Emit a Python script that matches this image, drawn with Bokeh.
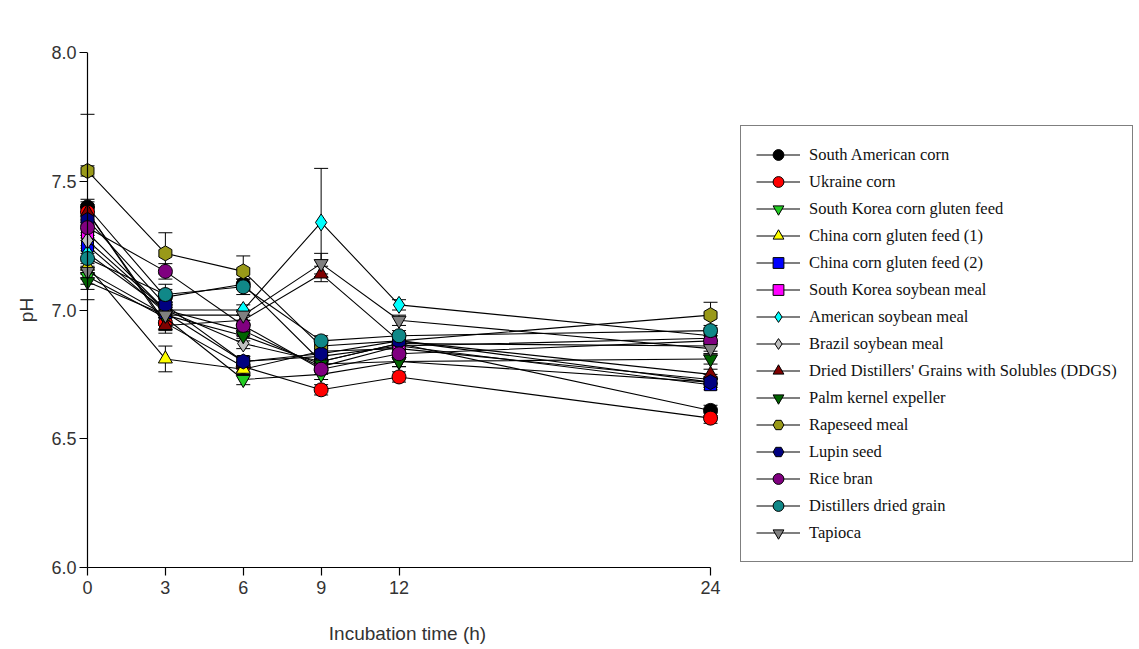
from bokeh.plotting import figure
from bokeh.models import (Range1d, FixedTicker, PrintfTickFormatter, Whisker, TeeHead,
                          ColumnDataSource, Legend, LegendItem, Span)
from bokeh.embed import file_html
from bokeh.resources import INLINE

hours = [0, 3, 6, 9, 12, 24]
x_ticks = [0, 3, 6, 9, 12, 24]
y_ticks = [6.0, 6.5, 7.0, 7.5, 8.0]

names = ["South American corn", "Ukraine corn", "South Korea corn gluten feed",
         "China corn gluten feed (1)", "China corn gluten feed (2)", "South Korea soybean meal",
         "American soybean meal", "Brazil soybean meal",
         "Dried Distillers' Grains with Solubles (DDGS)", "Palm kernel expeller",
         "Rapeseed meal", "Lupin seed", "Rice bran", "Distillers dried grain", "Tapioca"]

south_american_corn = [7.40, 7.05, 7.10, 6.80, 6.87, 6.61]
ukraine_corn        = [7.38, 6.95, 6.78, 6.69, 6.74, 6.58]
sk_corn_gluten      = [7.13, 6.97, 6.73, 6.75, 6.80, 6.72]
china_cgf_1         = [7.17, 6.81, 6.77, 6.84, 6.85, 6.73]
china_cgf_2         = [7.25, 6.99, 6.80, 6.82, 6.86, 6.71]
sk_soybean          = [7.30, 7.00, 6.92, 6.78, 6.86, 6.89]
american_soybean    = [7.22, 7.00, 7.00, 7.34, 7.02, 6.90]
brazil_soybean      = [7.27, 7.00, 6.87, 6.80, 6.87, 6.86]
ddgs                = [7.38, 6.94, 6.96, 7.14, 6.88, 6.75]
palm_kernel         = [7.11, 6.98, 6.90, 6.79, 6.80, 6.81]
rapeseed            = [7.54, 7.22, 7.15, 6.86, 6.88, 6.98]
lupin               = [7.35, 7.02, 6.80, 6.83, 6.88, 6.72]
rice_bran           = [7.32, 7.15, 6.94, 6.77, 6.83, 6.88]
ddg                 = [7.20, 7.06, 7.09, 6.88, 6.90, 6.92]
tapioca             = [7.15, 6.98, 6.98, 7.18, 6.96, 6.85]

err_south_american_corn = [0.36, 0.03, 0.02, 0.02, 0.02, 0.02]
err_ukraine_corn        = [0.04, 0.03, 0.02, 0.02, 0.02, 0.02]
err_sk_corn_gluten      = [0.03, 0.03, 0.02, 0.02, 0.02, 0.02]
err_china_cgf_1         = [0.03, 0.05, 0.02, 0.02, 0.02, 0.02]
err_china_cgf_2         = [0.03, 0.03, 0.02, 0.02, 0.02, 0.02]
err_sk_soybean          = [0.03, 0.03, 0.02, 0.02, 0.02, 0.02]
err_american_soybean    = [0.03, 0.03, 0.02, 0.21, 0.02, 0.02]
err_brazil_soybean      = [0.03, 0.03, 0.02, 0.02, 0.02, 0.02]
err_ddgs                = [0.05, 0.03, 0.02, 0.03, 0.02, 0.02]
err_palm_kernel         = [0.03, 0.03, 0.02, 0.02, 0.02, 0.02]
err_rapeseed            = [0.02, 0.08, 0.06, 0.02, 0.02, 0.05]
err_lupin               = [0.06, 0.03, 0.02, 0.02, 0.02, 0.02]
err_rice_bran           = [0.03, 0.03, 0.02, 0.02, 0.02, 0.02]
err_ddg                 = [0.03, 0.04, 0.03, 0.02, 0.02, 0.02]
err_tapioca             = [0.03, 0.03, 0.02, 0.04, 0.02, 0.02]

series = [south_american_corn, ukraine_corn, sk_corn_gluten, china_cgf_1, china_cgf_2,
          sk_soybean, american_soybean, brazil_soybean, ddgs, palm_kernel, rapeseed,
          lupin, rice_bran, ddg, tapioca]
errors = [err_south_american_corn, err_ukraine_corn, err_sk_corn_gluten, err_china_cgf_1,
          err_china_cgf_2, err_sk_soybean, err_american_soybean, err_brazil_soybean,
          err_ddgs, err_palm_kernel, err_rapeseed, err_lupin, err_rice_bran, err_ddg,
          err_tapioca]

colors = ["#000000", "#ff0000", "#22cc22", "#ffff00", "#0000ff", "#ff00ff", "#00ffff",
          "#c0c0c0", "#800000", "#006400", "#999919", "#000080", "#800080", "#108888",
          "#808080"]
markers = ["circle", "circle", "inverted_triangle", "triangle", "square", "square",
           "diamond", "diamond", "triangle", "inverted_triangle", "hex", "hex", "circle",
           "circle", "inverted_triangle"]
sizes = [14, 14, 14, 14, 12, 12, 17, 17, 14, 14, 15, 15, 14, 14, 14]

PX_PER_H = 25.96
FRAME_W = 656
XS = -8 / PX_PER_H
XE = XS + FRAME_W / PX_PER_H

p = figure(frame_width=FRAME_W, frame_height=515, x_range=Range1d(XS, XE),
           y_range=Range1d(6.0, 8.0), output_backend="svg", toolbar_location=None,
           min_border_left=79, min_border_right=0, min_border_top=52, min_border_bottom=0)
p.grid.visible = False
p.outline_line_color = None
p.background_fill_color = "white"

p.xaxis.bounds = (0, 24)
p.xaxis.ticker = FixedTicker(ticks=x_ticks)
p.yaxis.ticker = FixedTicker(ticks=y_ticks)
p.yaxis.formatter = PrintfTickFormatter(format="%.1f")
for ax in (p.xaxis, p.yaxis):
    ax.minor_tick_line_color = None
    ax.axis_line_color = "black"
    ax.axis_line_width = 1.2
    ax.major_tick_line_color = "black"
    ax.major_tick_line_width = 1.2
    ax.major_label_text_font = "Liberation Sans"
    ax.major_label_text_font_size = "18px"
    ax.major_label_text_color = "#333333"
    ax.axis_label_text_font = "Liberation Sans"
    ax.axis_label_text_font_size = "19px"
    ax.axis_label_text_font_style = "normal"
    ax.axis_label_text_color = "#333333"
p.xaxis.major_tick_out = 8
p.xaxis.major_tick_in = 0
p.yaxis.axis_line_color = None
p.yaxis.major_tick_out = 0
p.yaxis.major_tick_in = 8
p.xaxis.axis_label = "Incubation time (h)"
p.yaxis.axis_label = "pH"
p.xaxis.major_label_standoff = 5
p.xaxis.axis_label_standoff = 26
p.yaxis.major_label_standoff = 3
p.yaxis.axis_label_standoff = 11

# y axis line drawn through x = 0
p.add_layout(Span(location=0, dimension="height", line_color="black", line_width=1.2))

items = []
for name, vals, errs, col, mk, sz in zip(names, series, errors, colors, markers, sizes):
    src = ColumnDataSource(dict(x=hours, y=vals,
                                lo=[v - e for v, e in zip(vals, errs)],
                                hi=[v + e for v, e in zip(vals, errs)]))
    wk = Whisker(source=src, base="x", lower="lo", upper="hi", line_color="black",
                 line_width=1,
                 lower_head=TeeHead(size=14, line_color="black", line_width=1),
                 upper_head=TeeHead(size=14, line_color="black", line_width=1))
    p.add_layout(wk)
    ln = p.line("x", "y", source=src, line_color="black", line_width=1.1)
    kw = {}
    if mk == "hex":
        kw["angle"] = 0.5236
    sc = p.scatter("x", "y", source=src, marker=mk, size=sz, fill_color=col,
                   line_color="black", line_width=1, **kw)
    items.append(LegendItem(label=name, renderers=[ln, sc]))

legend = Legend(items=items, location="bottom_left", margin=5, padding=15, spacing=0,
                label_height=27, glyph_height=27, glyph_width=44, label_standoff=9,
                label_text_font="Liberation Serif", label_text_font_size="16.5px",
                label_text_color="#111111",
                border_line_color="black", border_line_width=1.5,
                background_fill_color="white", background_fill_alpha=1.0)
p.add_layout(legend, "right")

open("out.html", "w").write(file_html(p, INLINE))
